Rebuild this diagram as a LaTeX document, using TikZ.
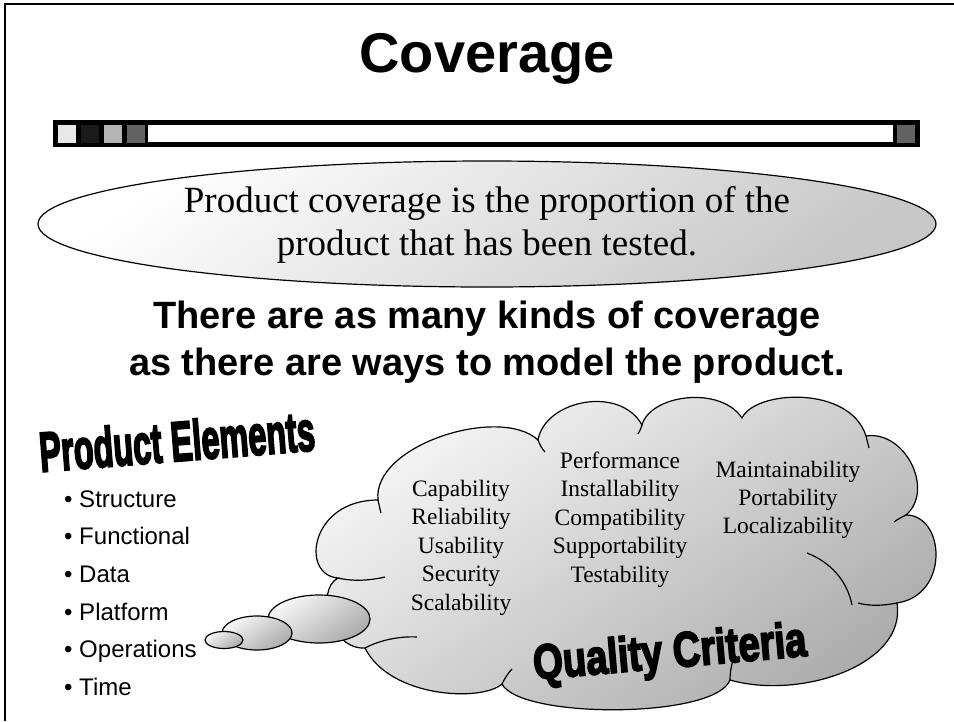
\documentclass[tikz,border=0pt]{standalone}
\usepackage{fontspec}
\setmainfont{Liberation Serif}
\newfontfamily\arialf{Liberation Sans}
\newfontfamily\wordart{Liberation Sans}[FakeBold=4]
\usetikzlibrary{shapes.geometric}
\definecolor{sqA}{HTML}{E8E8E8}
\definecolor{sqB}{HTML}{1A1A1A}
\definecolor{sqC}{HTML}{B4B4B4}
\definecolor{sqD}{HTML}{636363}
\tikzset{
  outl/.style={draw=black, line width=1.2pt},
  shadeA/.style={top color=white, bottom color=black!22, shading angle=35},
  shadeC/.style={top color=black!3, bottom color=black!33, shading angle=35},
  bul/.style={anchor=base west, inner sep=0pt, font=\arialf\fontsize{24}{27}\selectfont},
  qtext/.style={anchor=base, inner sep=0pt, font=\fontsize{23.5}{27}\selectfont}
}
\begin{document}
\begin{tikzpicture}[x=1pt,y=-1pt]
\useasboundingbox (0,0) rectangle (954,721);
\fill[white] (0,0) rectangle (954,721);
% frame
\draw[line width=2.5pt] (5,721) -- (5,4) -- (954,4);
% title
\node[anchor=base, inner sep=0pt, font=\arialf\bfseries\fontsize{56}{60}\selectfont] (title) at (487,72) {Coverage};
% bar
\fill[black] (53,120) rectangle (920,147);
\fill[white] (148,125) rectangle (893,142);
\fill[sqA] (58,125) rectangle (76,143);
\fill[sqB] (81,125) rectangle (99,143);
\fill[sqC] (104,125) rectangle (122,143);
\fill[sqD] (127,125) rectangle (145,143);
\fill[sqD] (897,125) rectangle (915,143);
% definition ellipse
\node[ellipse, outl, shadeA, minimum width=898pt, minimum height=126pt, inner sep=0pt] (defbox) at (487,224) {};
\node[anchor=base, inner sep=0pt, font=\fontsize{37}{43}\selectfont] (def1) at (487,212) {Product coverage is the proportion of the};
\node[anchor=base, inner sep=0pt, font=\fontsize{37}{43}\selectfont] (def2) at (487,255) {product that has been tested.};
% bold statement
\node[anchor=base, inner sep=0pt, font=\arialf\bfseries\fontsize{38}{44}\selectfont] (kinds1) at (487,328) {There are as many kinds of coverage};
\node[anchor=base, inner sep=0pt, font=\arialf\bfseries\fontsize{38}{44}\selectfont] (kinds2) at (487,375) {as there are ways to model the product.};
% product elements
\node[rotate=4.5, inner sep=0pt, font=\wordart\bfseries\fontsize{56}{60}\selectfont] (pe) at (177,441) {\scalebox{0.58}[1]{Product Elements}};
\node[bul] (b1) at (64,507) {• Structure};
\node[bul] (b2) at (64,544) {• Functional};
\node[bul] (b3) at (64,582) {• Data};
\node[bul] (b4) at (64,620) {• Platform};
\node[bul] (b5) at (64,657) {• Operations};
\node[bul] (b6) at (64,695) {• Time};
% cloud
\path[outl, shadeC]
  (378,500) .. controls (372,445) and (500,405) .. (538,440)
  .. controls (545,400) and (620,385) .. (642,425)
  .. controls (650,395) and (720,385) .. (742,418)
  .. controls (755,390) and (850,385) .. (866,436)
  .. controls (905,430) and (935,490) .. (906,515)
  .. controls (945,515) and (950,595) .. (897,603)
  .. controls (907,665) and (800,700) .. (730,680)
  .. controls (715,719) and (520,719) .. (502,684)
  .. controls (482,702) and (390,698) .. (365,648)
  .. controls (330,650) and (315,590) .. (338,578)
  .. controls (300,575) and (310,500) .. (378,500) -- cycle;
% cloud creases
\draw[outl] (338,578) .. controls (355,582) and (372,580) .. (385,577);
\draw[outl] (365,648) .. controls (380,640) and (400,636) .. (417,637);
\draw[outl] (378,500) .. controls (379,505) and (380,509) .. (381,513);
\draw[outl] (538,440) .. controls (540,445) and (542,449) .. (545,452);
\draw[outl] (642,425) .. controls (641,428) and (640,431) .. (638,434);
\draw[outl] (866,436) .. controls (867,440) and (868,444) .. (869,448);
\draw[outl] (906,515) .. controls (902,517) and (898,519) .. (894,522);
\draw[outl] (897,603) .. controls (882,606) and (869,606) .. (858,603);
\draw[outl] (807,553) .. controls (830,562) and (847,580) .. (852,605);
\draw[outl] (730,680) .. controls (730,673) and (731,667) .. (733,660);
\draw[outl] (502,684) .. controls (505,678) and (508,673) .. (512,669);
% quality texts
\foreach \t [count=\i] in {Capability,Reliability,Usability,Security,Scalability}
  \node[qtext] (qa\i) at (461,{496+28.5*(\i-1)}) {\t};
\foreach \t [count=\i] in {Performance,Installability,Compatibility,Supportability,Testability}
  \node[qtext] (qb\i) at (620,{468+28.5*(\i-1)}) {\t};
\foreach \t [count=\i] in {Maintainability,Portability,Localizability}
  \node[qtext] (qc\i) at (788,{477+28*(\i-1)}) {\t};
% thought bubbles
\node[ellipse, outl, shadeC, minimum width=102pt, minimum height=48pt, inner sep=0pt] (e3) at (319,619) {};
\node[ellipse, outl, shadeC, minimum width=70pt, minimum height=34pt, inner sep=0pt] (e2) at (257,633) {};
\node[ellipse, outl, shadeC, minimum width=38pt, minimum height=17pt, inner sep=0pt] (e1) at (224,640) {};
% quality criteria
\node[rotate=5, inner sep=0pt, font=\wordart\bfseries\fontsize{49}{52}\selectfont] (qc) at (670,655) {\scalebox{0.78}[1]{Quality Criteria}};
\end{tikzpicture}
\end{document}
